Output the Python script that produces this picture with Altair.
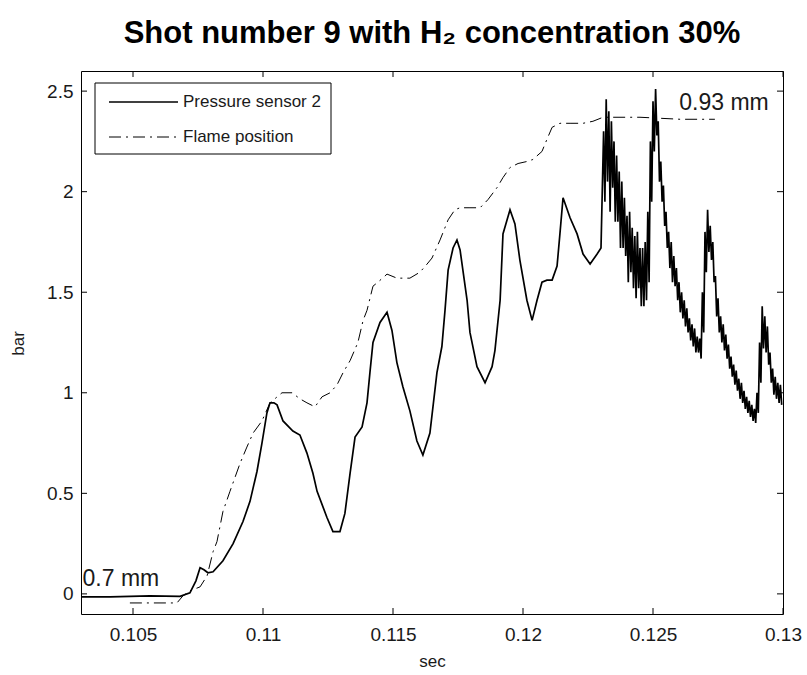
import altair as alt
import pandas as pd

# ---------------- data (time in ms, pressure / position in bar) ----------------
p_ms = [103.0, 104.12, 105.65, 106.81, 107.19, 107.42, 107.58, 107.73, 107.88, 108.08,
        108.46, 108.85, 109.23, 109.5, 109.77, 109.96, 110.15, 110.27, 110.42, 110.54,
        110.77, 111.15, 111.42, 111.69, 111.92, 112.08, 112.46, 112.69, 112.96, 113.15,
        113.35, 113.54, 113.81, 114.0, 114.12, 114.23, 114.5, 114.77, 114.96, 115.15,
        115.38, 115.65, 115.92, 116.15, 116.42, 116.69, 116.88, 117.0, 117.12, 117.31,
        117.46, 117.58, 117.85, 117.96, 118.23, 118.54, 118.81, 118.92, 119.12, 119.23,
        119.5, 119.69, 119.88, 120.15, 120.35, 120.54, 120.73, 120.92, 121.12, 121.31,
        121.42, 121.54, 121.81, 122.08, 122.31, 122.58, 122.85, 123.0]
p_bar = [-0.015, -0.015, -0.01, -0.012, 0.005, 0.065, 0.13, 0.12, 0.105, 0.11,
         0.165, 0.25, 0.36, 0.46, 0.61, 0.75, 0.9, 0.95, 0.95, 0.94,
         0.86, 0.81, 0.79, 0.70, 0.60, 0.51, 0.38, 0.31, 0.31, 0.40,
         0.60, 0.78, 0.83, 0.95, 1.11, 1.25, 1.35, 1.40, 1.31, 1.15,
         1.03, 0.91, 0.76, 0.69, 0.80, 1.10, 1.23, 1.41, 1.61, 1.72,
         1.76, 1.71, 1.46, 1.30, 1.13, 1.05, 1.13, 1.21, 1.46, 1.79,
         1.91, 1.84, 1.66, 1.46, 1.36, 1.46, 1.55, 1.56, 1.56, 1.63,
         1.79, 1.97, 1.87, 1.79, 1.69, 1.64, 1.69, 1.72]

# noisy part of the pressure signal: upper and lower swing of each oscillation
n_ms = [123.1, 123.2, 123.3, 123.4, 123.5, 123.6, 123.7, 123.8, 123.9, 124.0,
        124.1, 124.2, 124.3, 124.4, 124.5, 124.6, 124.7, 124.8, 124.9, 125.0,
        125.1, 125.2, 125.3, 125.4, 125.5, 125.6, 125.7, 125.8, 125.9, 126.0,
        126.1, 126.2, 126.3, 126.4, 126.5, 126.6, 126.7, 126.8, 126.9, 127.0,
        127.1, 127.2, 127.3, 127.4, 127.5, 127.6, 127.7, 127.8, 127.9, 128.0,
        128.1, 128.2, 128.3, 128.4, 128.5, 128.6, 128.7, 128.8, 128.9, 129.0,
        129.1, 129.2, 129.3, 129.4, 129.5, 129.6, 129.7, 129.8, 129.9]
n_hi = [2.30, 2.46, 2.40, 2.35, 2.25, 2.18, 2.10, 2.05, 1.97, 1.88,
        1.90, 1.82, 1.78, 1.80, 1.72, 1.72, 1.75, 1.90, 2.25, 2.45,
        2.51, 2.35, 2.15, 2.03, 1.90, 1.80, 1.75, 1.68, 1.62, 1.55,
        1.50, 1.46, 1.42, 1.37, 1.34, 1.32, 1.28, 1.27, 1.50, 1.80,
        1.91, 1.83, 1.75, 1.58, 1.47, 1.38, 1.34, 1.29, 1.24, 1.18,
        1.14, 1.11, 1.07, 1.05, 1.01, 0.98, 0.96, 0.94, 0.92, 1.00,
        1.25, 1.43, 1.38, 1.33, 1.20, 1.12, 1.08, 1.05, 1.04]
n_lo = [1.95, 2.05, 1.90, 2.02, 1.85, 1.85, 1.72, 1.72, 1.68, 1.55,
        1.60, 1.52, 1.47, 1.52, 1.43, 1.43, 1.46, 1.55, 1.95, 2.20,
        2.28, 2.05, 1.95, 1.83, 1.72, 1.62, 1.55, 1.53, 1.46, 1.40,
        1.37, 1.33, 1.30, 1.26, 1.23, 1.20, 1.20, 1.17, 1.30, 1.60,
        1.70, 1.66, 1.55, 1.38, 1.30, 1.25, 1.21, 1.17, 1.12, 1.08,
        1.04, 1.01, 0.97, 0.95, 0.92, 0.90, 0.88, 0.86, 0.85, 0.90,
        1.05, 1.22, 1.20, 1.14, 1.05, 0.99, 0.97, 0.95, 0.94]

flame_ms = [104.88, 105.65, 106.69, 106.92, 107.19, 107.58, 107.85, 108.08, 108.23, 108.46,
            108.73, 109.12, 109.38, 109.62, 109.96, 110.27, 110.73, 111.12, 111.42, 111.69,
            112.0, 112.27, 112.58, 112.85, 113.08, 113.35, 113.65, 113.85, 114.0, 114.23,
            114.42, 114.77, 115.15, 115.65, 116.04, 116.31, 116.5, 116.81, 117.12, 117.38,
            117.58, 117.96, 118.35, 118.65, 119.0, 119.23, 119.5, 119.81, 120.15, 120.38,
            120.73, 120.92, 121.12, 121.42, 121.81, 122.31, 122.69, 123.08, 124.5, 126.04,
            127.38]
flame_bar = [-0.045, -0.045, -0.045, -0.01, 0.015, 0.035, 0.09, 0.21, 0.26, 0.41,
             0.51, 0.65, 0.73, 0.80, 0.86, 0.95, 1.00, 1.00, 0.97, 0.95,
             0.93, 0.98, 1.00, 1.04, 1.10, 1.16, 1.25, 1.36, 1.41, 1.53,
             1.55, 1.59, 1.57, 1.57, 1.60, 1.64, 1.67, 1.76, 1.86, 1.91,
             1.92, 1.92, 1.92, 1.96, 2.02, 2.07, 2.12, 2.14, 2.15, 2.16,
             2.20, 2.26, 2.32, 2.34, 2.34, 2.34, 2.35, 2.37, 2.37, 2.36,
             2.36]

x_ticks = [0.105, 0.11, 0.115, 0.12, 0.125, 0.13]
y_ticks = [0, 0.5, 1, 1.5, 2, 2.5]

notes_text = ["0.7 mm", "0.93 mm"]
notes_t = [0.10306, 0.12601]
notes_v = [0.075, 2.44]

legend_labels = ["Pressure sensor 2", "Flame position"]

# ---------------- build tables ----------------
pres_rows = [{"t": t / 1000, "v": v} for t, v in zip(p_ms, p_bar)]
for t, hi, lo in zip(n_ms, n_hi, n_lo):
    pres_rows.append({"t": t / 1000, "v": hi})
    pres_rows.append({"t": (t + 0.05) / 1000, "v": lo})
pres = pd.DataFrame(pres_rows)
pres["i"] = range(len(pres))
flame = pd.DataFrame({"t": [t / 1000 for t in flame_ms], "v": flame_bar})

W, H = 702, 543
FONT = "Liberation Sans"
TXT = "#1a1a1a"

xs = alt.Scale(domain=[0.103, 0.13], nice=False, zero=False)
ys = alt.Scale(domain=[-0.1, 2.6], nice=False, zero=False)

x_axis = alt.Axis(values=x_ticks, format="~g", title="sec", domain=False, ticks=False,
                  grid=False, labelPadding=11, labelFlush=False, labelFontSize=19,
                  labelFont=FONT, labelColor=TXT, titleFont=FONT, titleFontSize=17,
                  titleFontWeight="normal", titleColor=TXT, titleY=47,
                  titleBaseline="middle")
y_axis = alt.Axis(values=y_ticks, format="~g", title="bar", domain=False, ticks=False,
                  grid=False, labelPadding=8, labelFlush=False, labelFontSize=19,
                  labelFont=FONT, labelColor=TXT, titleFont=FONT, titleFontSize=17,
                  titleFontWeight="normal", titleColor=TXT, titleX=-63, titleY=272,
                  titleAngle=270, titleBaseline="middle", titleAlign="center")

pres_line = alt.Chart(pres).mark_line(color="black", strokeWidth=1.7, clip=True).encode(
    x=alt.X("t:Q", scale=xs, axis=x_axis),
    y=alt.Y("v:Q", scale=ys, axis=y_axis),
    order="i:Q",
)

flame_line = alt.Chart(flame).mark_line(color="black", strokeWidth=1,
                                        strokeDash=[12, 5, 2, 5], clip=True).encode(
    x=alt.X("t:Q", scale=xs),
    y=alt.Y("v:Q", scale=ys),
)

notes = alt.Chart(pd.DataFrame({"t": notes_t, "v": notes_v, "s": notes_text})).mark_text(
    align="left", baseline="middle", fontSize=23, font=FONT, color=TXT
).encode(x=alt.X("t:Q", scale=xs), y=alt.Y("v:Q", scale=ys), text="s:N")

xt = pd.DataFrame({"t": x_ticks})
yt = pd.DataFrame({"v": y_ticks})
tick_bottom = alt.Chart(xt).mark_rule(color="black", strokeWidth=1).encode(
    x=alt.X("t:Q", scale=xs), y=alt.value(H), y2=alt.value(H - 6))
tick_top = alt.Chart(xt).mark_rule(color="black", strokeWidth=1).encode(
    x=alt.X("t:Q", scale=xs), y=alt.value(0), y2=alt.value(6))
tick_left = alt.Chart(yt).mark_rule(color="black", strokeWidth=1).encode(
    y=alt.Y("v:Q", scale=ys), x=alt.value(0), x2=alt.value(6))
tick_right = alt.Chart(yt).mark_rule(color="black", strokeWidth=1).encode(
    y=alt.Y("v:Q", scale=ys), x=alt.value(W), x2=alt.value(W - 6))

# legend box drawn by hand
leg_box = alt.Chart(pd.DataFrame({"a": [0]})).mark_rect(
    fill="white", stroke="black", strokeWidth=1).encode(
    x=alt.value(14), x2=alt.value(250), y=alt.value(12), y2=alt.value(83))
leg_l1 = alt.Chart(pd.DataFrame({"a": [0]})).mark_rule(color="black", strokeWidth=1.6).encode(
    x=alt.value(28), x2=alt.value(97), y=alt.value(31))
leg_l2 = alt.Chart(pd.DataFrame({"a": [0]})).mark_rule(
    color="black", strokeWidth=1, strokeDash=[12, 5, 2, 5]).encode(
    x=alt.value(28), x2=alt.value(97), y=alt.value(66))
leg_t1 = alt.Chart(pd.DataFrame({"s": [legend_labels[0]]})).mark_text(
    align="left", baseline="middle", fontSize=17, font=FONT, color=TXT).encode(
    x=alt.value(102), y=alt.value(31), text="s:N")
leg_t2 = alt.Chart(pd.DataFrame({"s": [legend_labels[1]]})).mark_text(
    align="left", baseline="middle", fontSize=17, font=FONT, color=TXT).encode(
    x=alt.value(102), y=alt.value(66), text="s:N")

chart = alt.layer(
    pres_line, flame_line, notes, tick_bottom, tick_top, tick_left, tick_right,
    leg_box, leg_l1, leg_l2, leg_t1, leg_t2,
).properties(
    width=W, height=H,
    title=alt.TitleParams("Shot number 9 with H₂ concentration 30%",
                          font=FONT, fontSize=31,
                          fontWeight="bold", color="black", anchor="middle", offset=21),
    autosize=alt.AutoSizeParams(type="none"),
    padding={"left": 81, "top": 71, "right": 24, "bottom": 61},
    background="white",
).configure_view(stroke="black", strokeWidth=1)

chart.save("out.html", embed_options={"renderer": "svg", "actions": False})
